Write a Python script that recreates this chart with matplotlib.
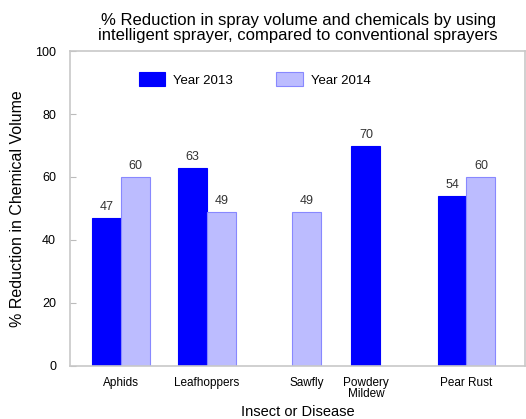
import numpy as np
import matplotlib
matplotlib.use("Agg")
import matplotlib.pyplot as plt

plt.rcParams['font.family'] = ['Liberation Sans', 'DejaVu Sans']

categories = ['Aphids', 'Leafhoppers', 'Sawfly', 'Powdery\nMildew', 'Pear Rust']
year2013 = [47, 63, None, 70, 54]
year2014 = [60, 49, 49, None, 60]

# group centres (Sawfly / Powdery Mildew only have one bar each)
pos = np.array([0, 1, 2.16, 2.85, 4.02])
w = 0.337

fig = plt.figure(figsize=(5.26, 4.19), dpi=100)
ax = fig.add_axes([0.133, 0.127, 0.865, 0.751])

c13 = '#0000ff'
c14 = '#bcbcff'
e14 = '#8888ff'

for i in range(len(categories)):
    a, b = year2013[i], year2014[i]
    if a is not None and b is not None:
        x13, x14 = pos[i] - w / 2, pos[i] + w / 2
    else:
        x13 = x14 = pos[i]
    if a is not None:
        ax.bar(x13, a, w, color=c13, edgecolor=c13, linewidth=0.8,
               label='Year 2013' if i == 0 else None)
        ax.text(x13, a + 1.5, str(a), ha='center', va='bottom', fontsize=9, color='#333333')
    if b is not None:
        ax.bar(x14, b, w, color=c14, edgecolor=e14, linewidth=0.8,
               label='Year 2014' if i == 0 else None)
        ax.text(x14, b + 1.5, str(b), ha='center', va='bottom', fontsize=9, color='#333333')

ax.set_xlim(-0.593, 4.70)
ax.set_ylim(0, 100)
ax.set_yticks([0, 20, 40, 60, 80, 100])
ax.set_xticks(pos)
ax.set_xticklabels(categories, fontsize=8.5, linespacing=0.95)
ax.tick_params(axis='y', direction='in', length=4, labelsize=9, color='#bbbbbb', pad=10)
ax.tick_params(axis='x', length=0, pad=8)
for s in ax.spines.values():
    s.set_color('#c8c8c8')
    s.set_linewidth(1.2)

ax.set_ylabel('% Reduction in Chemical Volume', fontsize=11.5, labelpad=7)
ax.set_xlabel('Insect or Disease', fontsize=10.5, labelpad=3)
fig.suptitle('% Reduction in spray volume and chemicals by using\nintelligent sprayer, compared to conventional sprayers',
             fontsize=12, x=0.567, y=0.968, linespacing=0.95)

ax.legend(loc='upper left', bbox_to_anchor=(0.125, 0.97), ncol=2, frameon=False,
          fontsize=9.5, handlelength=2.0, handleheight=1.2, handletextpad=0.6,
          columnspacing=3.3)

fig.savefig('out.png', dpi=100)
